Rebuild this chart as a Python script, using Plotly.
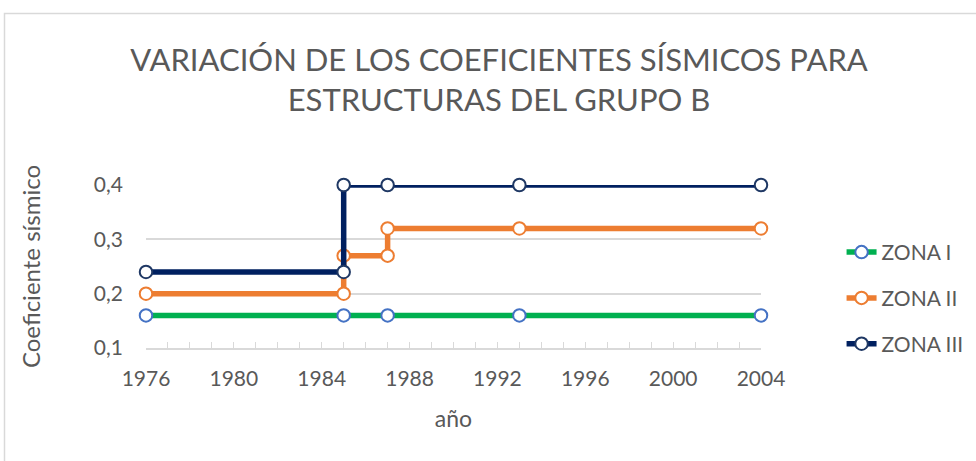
import plotly.graph_objects as go

# Seismic coefficient steps per zone (years where the value changes are repeated)
years_z1 = [1976, 1985, 1987, 1993, 2004]
coef_z1 = [0.16, 0.16, 0.16, 0.16, 0.16]

years_z2 = [1976, 1985, 1985, 1987, 1987, 1993, 2004]
coef_z2 = [0.20, 0.20, 0.27, 0.27, 0.32, 0.32, 0.32]

years_z3 = [1976, 1985, 1985, 1987, 1993, 2004]
coef_z3 = [0.24, 0.24, 0.40, 0.40, 0.40, 0.40]

series = [
    ("ZONA I", years_z1, coef_z1, "#00B050", "#4472C4"),
    ("ZONA II", years_z2, coef_z2, "#ED7D31", "#ED7D31"),
    ("ZONA III", years_z3, coef_z3, "#002060", "#1F3864"),
]

x_ticks = [1976, 1980, 1984, 1988, 1992, 1996, 2000, 2004]
y_ticks = [0.1, 0.2, 0.3, 0.4]
y_tick_text = ["0,1", "0,2", "0,3", "0,4"]

FONT = "Lato"
GREY = "#595959"

fig = go.Figure()
for i, (name, xs, ys, line_col, mk_col) in enumerate(series):
    fig.add_trace(go.Scatter(
        x=xs, y=ys, name=name, mode="lines+markers",
        legendgroup=f"g{i}", cliponaxis=False,
        line=dict(color=line_col, width=5.5),
        marker=dict(symbol="circle", size=12.5, color="white",
                    line=dict(color=mk_col, width=2)),
    ))

fig.update_layout(
    width=976, height=461,
    margin=dict(l=146, r=215, t=185, b=113, autoexpand=False),
    paper_bgcolor="white", plot_bgcolor="white",
    font=dict(family=FONT, color=GREY),
    title=dict(
        text="VARIACIÓN DE LOS COEFICIENTES SÍSMICOS PARA<br>ESTRUCTURAS DEL GRUPO B",
        x=499 / 976, xref="container", xanchor="center",
        y=1 - 71 / 461, yref="container", yanchor="middle",
        font=dict(family=FONT, size=31, color=GREY),
    ),
    legend=dict(
        x=1.131, xanchor="left", y=0.307, yanchor="middle",
        font=dict(family=FONT, size=21, color=GREY),
        tracegroupgap=15.5, bgcolor="rgba(0,0,0,0)",
    ),
    xaxis=dict(
        range=[1976, 2004], tickvals=x_ticks,
        showgrid=False, zeroline=False,
        showline=True, linecolor="#D9D9D9", linewidth=1.5,
        ticks="inside", ticklen=6, tickcolor="#D9D9D9",
        minor=dict(dtick=1, ticks="inside", ticklen=6, tickcolor="#D9D9D9"),
        tickfont=dict(family=FONT, size=21, color=GREY),
        ticklabelstandoff=11,
        title=dict(text="año", font=dict(family=FONT, size=23, color=GREY), standoff=22),
    ),
    yaxis=dict(
        range=[0.1, 0.4], tickvals=y_ticks, ticktext=y_tick_text,
        showgrid=True, gridcolor="#D9D9D9", gridwidth=1.5,
        zeroline=False, showline=False, ticks="",
        tickfont=dict(family=FONT, size=21, color=GREY),
        ticklabelstandoff=22,
        title=dict(text="Coeficiente sísmico", font=dict(family=FONT, size=24, color=GREY), standoff=46),
    ),
    shapes=[dict(
        type="rect", xref="paper", yref="paper",
        x0=(4.5 - 146) / 615, x1=1.6, y0=-1.0, y1=(348 - 13.5) / 163,
        line=dict(color="#D9D9D9", width=1.5), fillcolor="rgba(0,0,0,0)", layer="below",
    )],
)

fig.write_html("out.html")
